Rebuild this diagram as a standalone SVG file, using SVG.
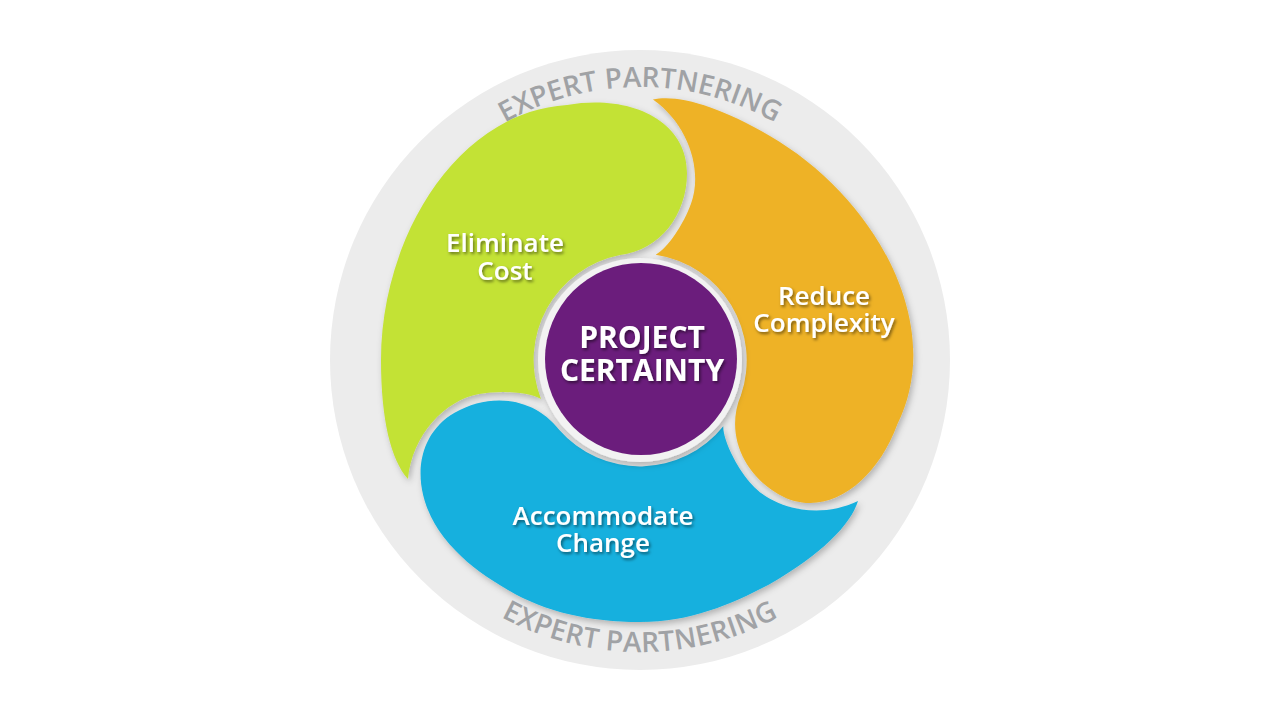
<svg xmlns="http://www.w3.org/2000/svg" xmlns:xlink="http://www.w3.org/1999/xlink" width="1280" height="720" viewBox="0 0 1280 720">
<defs>
<style>
.lbl{font-family:"Open Sans","Liberation Sans",sans-serif;font-weight:600;font-size:26px;fill:#ffffff;text-anchor:middle}
.ctr{font-family:"Open Sans","Liberation Sans",sans-serif;font-weight:700;font-size:30px;fill:#ffffff;text-anchor:middle}
.ring{font-family:"Open Sans","Liberation Sans",sans-serif;font-weight:600;font-size:28px;fill:#a0a2a5}
</style>
<filter id="sh" x="-15%" y="-15%" width="130%" height="130%">
<feDropShadow dx="2" dy="3" stdDeviation="3" flood-color="#000000" flood-opacity="0.25"/>
</filter>
<filter id="tsh" x="-10%" y="-20%" width="120%" height="150%">
<feDropShadow dx="1.5" dy="2" stdDeviation="1.5" flood-color="#000000" flood-opacity="0.5"/>
</filter>
<path id="arcTop" d="M 367 360 A 273 273 0 0 1 913 360"/>
<path id="arcBot" d="M 348 360 A 292 292 0 0 0 932 360"/>
<path id="petal" d="M 408 479 C 391 460 381 420 381 360 C 381 240 455 112 567 105 C 630 94 687 120 687 173 C 687 215 660 250 620 255 A 107 107 0 0 0 541 399 C 530 392 500 390 479 394 C 445 400 412 435 408 479 Z"/>
</defs>
<rect x="0" y="0" width="1280" height="720" fill="#ffffff"/>
<g id="expert-partnering">
<circle cx="640" cy="360" r="310" fill="#ececec"/>
<text class="ring"><textPath href="#arcTop" xlink:href="#arcTop" startOffset="50%" text-anchor="middle">EXPERT PARTNERING</textPath></text>
<text class="ring" letter-spacing="0.4"><textPath href="#arcBot" xlink:href="#arcBot" startOffset="50%" text-anchor="middle">EXPERT PARTNERING</textPath></text>
</g>
<g id="connectors"></g>
<g id="eliminate-cost">
<g filter="url(#sh)"><use href="#petal" xlink:href="#petal" fill="#c3e236"/></g>
<g filter="url(#tsh)">
<text class="lbl" x="505" y="252">Eliminate</text>
<text class="lbl" x="505" y="280">Cost</text>
</g>
</g>
<g id="reduce-complexity">
<g filter="url(#sh)"><use href="#petal" xlink:href="#petal" fill="#eeb226" transform="rotate(120 640 360)"/></g>
<g filter="url(#tsh)">
<text class="lbl" x="824" y="305">Reduce</text>
<text class="lbl" x="824" y="332">Complexity</text>
</g>
</g>
<g id="accommodate-change">
<g filter="url(#sh)"><path fill="#14b0de" d="M 858 501 C 850.6 524.8 821.5 554.3 769.5 584.3 C 730 605 690 622 640 622 C 590 622 545 612 508 590 C 488 578 470 566 455.7 550.7 C 409.4 504.7 408.7 439.3 454.6 412.8 C 490.9 391.8 534.7 397.7 559.1 429.8 A 107 107 0 0 0 723.3 426.2 C 722.7 439.3 736 466.2 749.9 482.4 C 772.1 508.9 819 519.9 858 501 Z"/></g>
<g filter="url(#tsh)">
<text class="lbl" x="603" y="525">Accommodate</text>
<text class="lbl" x="603" y="552">Change</text>
</g>
</g>
<g id="project-certainty">
<circle cx="640" cy="360" r="102" fill="#f2f2f2" filter="url(#sh)"/>
<circle cx="641" cy="359" r="96" fill="#6b1d7c"/>
<g filter="url(#tsh)">
<text class="ctr" x="642" y="348">PROJECT</text>
<text class="ctr" x="642" y="381">CERTAINTY</text>
</g>
</g>
</svg>
